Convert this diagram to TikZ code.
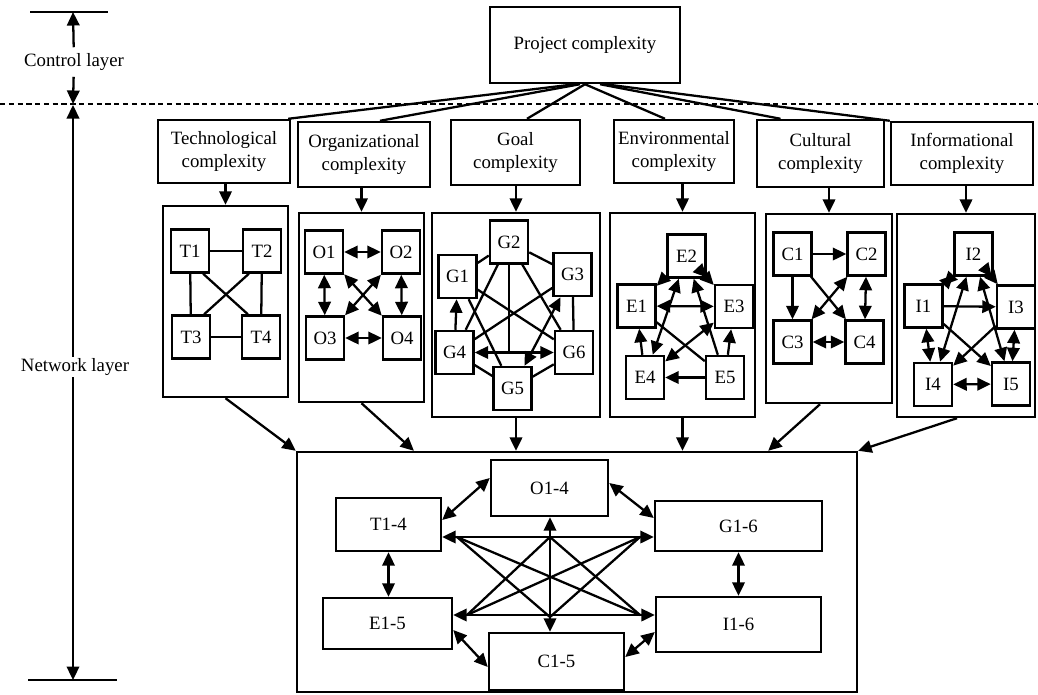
\documentclass[tikz,border=0pt]{standalone}
\usepackage{fontspec}
\setmainfont{Liberation Serif}
\usetikzlibrary{arrows.meta,calc}

\tikzset{
  box/.style={draw, line width=1.4pt, inner sep=0pt, align=center},
  elem/.style={box, minimum width=0.76cm, minimum height=0.86cm},
  ln/.style={line width=1.3pt},
  arr/.style={line width=1.3pt, -{Triangle[length=2.7mm,width=2.5mm]}},
  darr/.style={line width=1.3pt, {Triangle[length=2.7mm,width=2.5mm]}-{Triangle[length=2.7mm,width=2.5mm]}},
}

\begin{document}
\begin{tikzpicture}[x=0.02cm,y=-0.02cm,font=\fontsize{10.7}{13}\selectfont]
    \useasboundingbox (0,0) rectangle (1038,694);
    \coordinate (ctop) at (73,12);
    \coordinate (cbot) at (73,104);
    \coordinate (ntop) at (73,105);
    \coordinate (nbot) at (73,680);
    \draw[ln] (30,12) -- (108,12);
    \draw[ln] (28,680) -- (117,680);
    \draw[densely dashed, line width=0.9pt] (0,104) -- (1038,104);
    \node (ctrl) at (74,62) {Control layer};
    \draw[arr] (ctrl) -- (ctop);
    \draw[arr] (ctrl) -- (cbot);
    \draw[darr] (ntop) -- (nbot);
    \node[fill=white, inner sep=1pt] (netw) at (75,367) {Network layer};
    \node[box, minimum width=3.8cm, minimum height=1.52cm] (proj) at (585,45) {Project complexity};
    \node[box, minimum width=2.64cm, minimum height=1.26cm] (tech) at (224,151.5) {Technological\\complexity};
    \node[box, minimum width=2.64cm, minimum height=1.3cm] (org) at (364,154.5) {Organizational\\complexity};
    \node[box, minimum width=2.58cm, minimum height=1.3cm] (goal) at (515.5,152.5) {Goal\\complexity};
    \node[box, minimum width=2.4cm, minimum height=1.26cm] (env) at (674,151.5) {Environmental\\complexity};
    \node[box, minimum width=2.54cm, minimum height=1.34cm] (cult) at (820.5,153.5) {Cultural\\complexity};
    \node[box, minimum width=2.84cm, minimum height=1.26cm] (info) at (962,153.5) {Informational\\complexity};
    \draw[ln] ([xshift=-0.2cm]proj.south) -- ([xshift=-0.06cm]tech.north east);
    \draw[ln] ([xshift=-0.1cm]proj.south) -- ([xshift=0.32cm]org.north);
    \draw[ln] (proj.south) -- ([xshift=0.23cm]goal.north);
    \draw[ln] (proj.south) -- ([xshift=-0.18cm]env.north);
    \draw[ln] ([xshift=0.3cm]proj.south) -- ([xshift=-0.8cm]cult.north);
    \draw[ln] ([xshift=0.4cm]proj.south) -- (info.north west);
    \node[box, minimum width=2.5cm, minimum height=3.82cm] (tnet) at (225.5,301.5) {};
    \node[box, minimum width=2.5cm, minimum height=3.78cm] (onet) at (361.5,307.5) {};
    \node[box, minimum width=3.36cm, minimum height=4.08cm] (gnet) at (516,315) {};
    \node[box, minimum width=2.9cm, minimum height=4.08cm] (enet) at (682.5,315) {};
    \node[box, minimum width=2.52cm, minimum height=3.78cm] (cnet) at (829,308.5) {};
    \node[box, minimum width=2.76cm, minimum height=4.06cm] (inet) at (966,315.5) {};
    \draw[arr] (tnet.north |- tech.south) -- (tnet.north);
    \draw[arr] (onet.north |- org.south) -- (onet.north);
    \draw[arr] (gnet.north |- goal.south) -- (gnet.north);
    \draw[arr] (enet.north |- env.south) -- (enet.north);
    \draw[arr] (cnet.north |- cult.south) -- (cnet.north);
    \draw[arr] (inet.north |- info.south) -- (inet.north);
    \node[elem] (t1) at (190,251) {T1};
    \node[elem] (t2) at (262,251) {T2};
    \node[elem] (t3) at (191,337) {T3};
    \node[elem] (t4) at (261,337) {T4};
    \draw[ln] (t1) -- (t2);
    \draw[ln] (t3) -- (t4);
    \draw[ln] (t1) -- (t3);
    \draw[ln] (t2) -- (t4);
    \draw[ln] (t1.-60) -- (t4.120);
    \draw[ln] (t2.-120) -- (t3.60);
    \node[elem] (o1) at (324,252) {O1};
    \node[elem] (o2) at (401,252) {O2};
    \node[elem] (o3) at (325,338) {O3};
    \node[elem] (o4) at (402,338) {O4};
    \draw[darr] (o1) -- (o2);
    \draw[darr] (o3) -- (o4);
    \draw[darr] (o1) -- (o3);
    \draw[darr] (o2) -- (o4);
    \draw[darr] (o1) -- (o4);
    \draw[darr] (o2) -- (o3);
    \node[elem] (g1) at (457.5,276.5) {G1};
    \node[elem] (g2) at (509,242) {G2};
    \node[elem] (g3) at (572.5,274.5) {G3};
    \node[elem] (g4) at (454.5,352.5) {G4};
    \node[elem] (g5) at (512.5,388.5) {G5};
    \node[elem] (g6) at (574,352.5) {G6};
    \draw[ln] (g2) -- (g1);
    \draw[ln] (g2) -- (g3);
    \draw[ln] (g2) -- (g4);
    \draw[ln] (g2) -- (g6);
    \draw[ln] (g2.south) -- (g2.south |- g4.east);
    \draw[ln] (g1) -- (g6);
    \draw[ln] (g1) -- (g5);
    \draw[ln] (g3) -- (g4);
    \draw[ln] (g3) -- (g6);
    \draw[ln] (g4) -- (g5);
    \draw[ln] (g6) -- (g5);
    \draw[arr] (g4) -- (g1);
    \draw[darr] (g4) -- (g6);
    \draw[darr] (g3) -- (g5);
    \node[elem] (e1) at (636.5,306) {E1};
    \node[elem] (e2) at (686.5,256) {E2};
    \node[elem] (e3) at (734,306.5) {E3};
    \node[elem] (e4) at (645,377.5) {E4};
    \node[elem] (e5) at (725,377.5) {E5};
    \draw[arr] (e2) -- (e1);
    \draw[darr] (e2) -- (e3);
    \draw[darr] (e1) -- (e3);
    \draw[darr] (e4) -- (e2);
    \draw[arr] (e5) -- (e2);
    \draw[ln] (e1) -- (e5);
    \draw[arr] (e4) -- (e1);
    \draw[arr] (e5) -- (e4);
    \draw[arr] (e5) -- (e3);
    \draw[darr] (e3) -- (e4);
    \node[elem] (c1) at (792.5,254) {C1};
    \node[elem] (c2) at (866.5,254) {C2};
    \node[elem] (c3) at (792.5,342) {C3};
    \node[elem] (c4) at (864.5,342) {C4};
    \draw[arr] (c1) -- (c2);
    \draw[arr] (c1) -- (c3);
    \draw[arr] (c1) -- (c4);
    \draw[darr] (c2) -- (c3);
    \draw[darr] (c2) -- (c4);
    \draw[darr] (c3) -- (c4);
    \node[elem] (i1) at (923.5,306) {I1};
    \node[elem] (i2) at (973.5,254) {I2};
    \node[elem] (i3) at (1016,307) {I3};
    \node[elem] (i4) at (933,384.5) {I4};
    \node[elem] (i5) at (1011,384) {I5};
    \draw[darr] (i1) -- (i2);
    \draw[darr] (i2) -- (i3);
    \draw[arr] (i1) -- (i3);
    \draw[darr] (i1) -- (i4);
    \draw[darr] (i3) -- (i5);
    \draw[darr] (i4) -- (i5);
    \draw[darr] (i2) -- (i4);
    \draw[darr] (i2) -- (i5);
    \draw[arr] (i3) -- (i4);
    \draw[arr] (i1) -- (i5);
    \node[box, minimum width=11.2cm, minimum height=4.8cm] (net) at (577,572) {};
    \draw[arr] (tnet.south) -- (net.north west);
    \draw[arr] (onet.south) -- ($(net.north west)!0.21!(net.north east)$);
    \draw[arr] (gnet.south) -- (gnet.south |- net.north);
    \draw[arr] (enet.south) -- (enet.south |- net.north);
    \draw[arr] ([xshift=-0.18cm]cnet.south) -- ($(net.north west)!0.84!(net.north east)$);
    \draw[arr] ([xshift=-0.18cm]inet.south) -- (net.north east);
    \node[box, minimum width=2.34cm, minimum height=1.12cm] (o14) at (549.5,488) {O1-4};
    \node[box, minimum width=2.1cm, minimum height=1.06cm] (t14) at (388.5,524.5) {T1-4};
    \node[box, minimum width=3.34cm, minimum height=1.0cm] (g16) at (738.5,526) {G1-6};
    \node[box, minimum width=2.58cm, minimum height=1.02cm] (e15) at (387.5,623.5) {E1-5};
    \node[box, minimum width=3.3cm, minimum height=1.1cm] (i16) at (738.5,624.5) {I1-6};
    \node[box, minimum width=2.7cm, minimum height=1.14cm] (c15) at (556.5,661.5) {C1-5};
    \coordinate (at) at (457,537);
    \coordinate (ag) at (640,537);
    \coordinate (ae) at (467,615);
    \coordinate (ai) at (640,615);
    \coordinate (ao) at (550,537);
    \coordinate (ac) at (550,617);
    \draw[arr] (at) -- (at -| t14.east);
    \draw[arr] (ag) -- (ag -| g16.west);
    \draw[arr] (ae) -- (ae -| e15.east);
    \draw[arr] (ai) -- (ai -| i16.west);
    \draw[arr] (ao) -- (ao |- o14.south);
    \draw[arr] (ac) -- (ac |- c15.north);
    \draw[ln] (at) -- (ag);
    \draw[ln] (ae) -- (ai);
    \draw[ln] (ao) -- (ac);
    \draw[ln] (at) -- (ai);
    \draw[ln] (ae) -- (ag);
    \draw[ln] (at) -- (ac);
    \draw[ln] (ag) -- (ac);
    \draw[ln] (ao) -- (ae);
    \draw[ln] (ao) -- (ai);
    \draw[darr] ([yshift=0.09cm]t14.east) -- ([yshift=0.2cm]o14.west);
    \draw[darr] ([yshift=0.1cm]o14.east) -- ([yshift=0.16cm]g16.west);
    \draw[darr] (t14.south) -- (t14.south |- e15.north);
    \draw[darr] (g16.south) -- (g16.south |- i16.north);
    \draw[darr] ([yshift=-0.13cm]e15.east) -- ([yshift=-0.11cm]c15.west);
    \draw[darr] ([yshift=0.09cm]c15.east) -- ([yshift=-0.15cm]i16.west);
\end{tikzpicture}
\end{document}
